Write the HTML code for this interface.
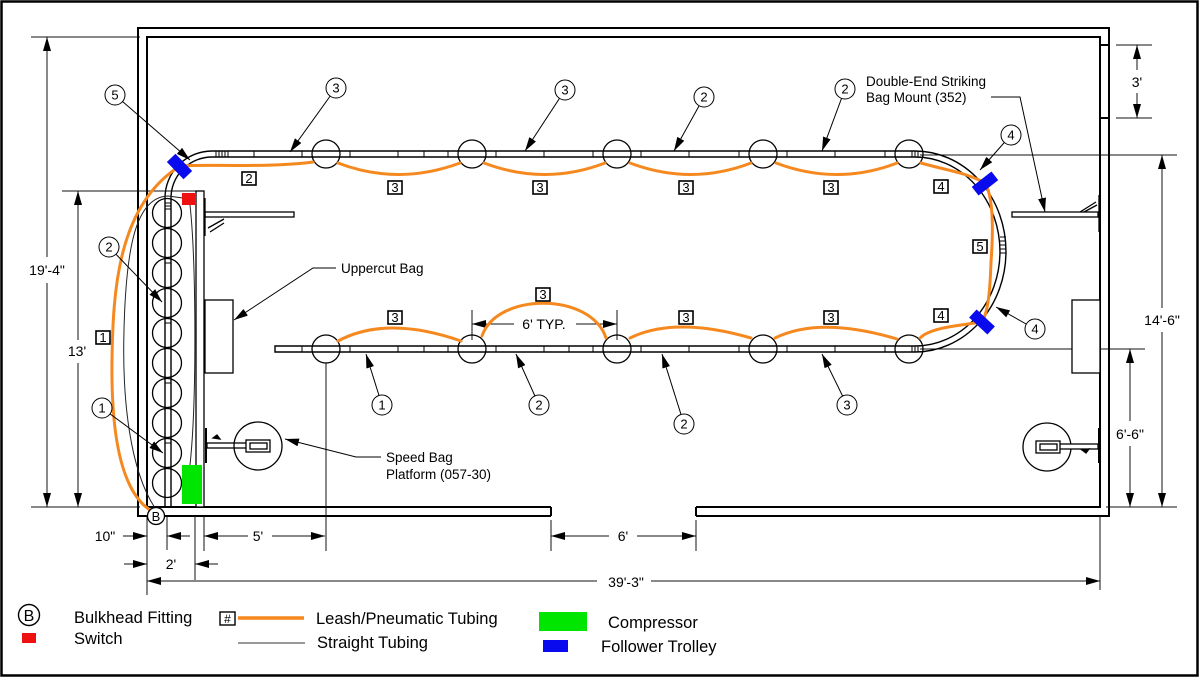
<!DOCTYPE html>
<html><head><meta charset="utf-8"><style>
html,body{margin:0;padding:0;background:#fff;}
svg{display:block;}
text{font-family:"Liberation Sans",Arial,sans-serif;fill:#000;}
</style></head><body>
<svg width="1200" height="678" viewBox="0 0 1200 678" xmlns="http://www.w3.org/2000/svg">
<defs>
<marker id="ah" markerUnits="userSpaceOnUse" markerWidth="14" markerHeight="8" refX="14" refY="4" orient="auto"><path d="M0,0 L14,4 L0,8 Z" fill="#000"/></marker>
</defs>
<rect x="1.5" y="1.5" width="1196" height="674" fill="#fff" stroke="#000" stroke-width="2.5"/>

<!-- walls -->
<g fill="none" stroke="#000" stroke-width="2">
<path d="M551 516 H138 V28 H1109 V516 H696"/>
<path d="M551 507 H147 V37 H1100 V507 H696"/>
<path d="M551 507 V516 M696 507 V516 M1100 45 H1109 M1100 118 H1109"/>
</g>

<!-- dimension / extension lines -->
<g fill="none" stroke="#111" stroke-width="1">
<path d="M31 37 H140 M31 507 H140 M62 191 H196"/>
<line x1="47" y1="257" x2="47" y2="37" marker-end="url(#ah)"/>
<line x1="47" y1="283" x2="47" y2="507" marker-end="url(#ah)"/>
<line x1="78" y1="340" x2="78" y2="191" marker-end="url(#ah)"/>
<line x1="78" y1="363" x2="78" y2="507" marker-end="url(#ah)"/>
<path d="M1116 45 H1152 M1116 118 H1152"/>
<line x1="1137" y1="70" x2="1137" y2="45" marker-end="url(#ah)"/>
<line x1="1137" y1="93" x2="1137" y2="118" marker-end="url(#ah)"/>
<path d="M920 155 H1177 M920 349 H1145 M1106 507 H1177"/>
<line x1="1162" y1="308" x2="1162" y2="155" marker-end="url(#ah)"/>
<line x1="1162" y1="332" x2="1162" y2="507" marker-end="url(#ah)"/>
<line x1="1130" y1="421" x2="1130" y2="349" marker-end="url(#ah)"/>
<line x1="1130" y1="446" x2="1130" y2="507" marker-end="url(#ah)"/>
<!-- bottom extension lines -->
<path d="M147 516 V595 M167 516 V550 M195 516 V580 M204 516 V551 M326 363 V551 M551 520 V551 M696 520 V551 M1100 516 V590"/>
<line x1="123" y1="536" x2="147" y2="536" marker-end="url(#ah)"/>
<line x1="190" y1="536" x2="167" y2="536" marker-end="url(#ah)"/>
<line x1="124" y1="564" x2="147" y2="564" marker-end="url(#ah)"/>
<line x1="218" y1="564" x2="195" y2="564" marker-end="url(#ah)"/>
<line x1="248" y1="536" x2="204" y2="536" marker-end="url(#ah)"/>
<line x1="272" y1="536" x2="325" y2="536" marker-end="url(#ah)"/>
<line x1="609" y1="536" x2="551" y2="536" marker-end="url(#ah)"/>
<line x1="637" y1="536" x2="696" y2="536" marker-end="url(#ah)"/>
<line x1="597" y1="581" x2="147" y2="581" marker-end="url(#ah)"/>
<line x1="651" y1="581" x2="1100" y2="581" marker-end="url(#ah)"/>
<!-- 6' TYP -->
<path d="M472 310 V340 M617 310 V340"/>
<line x1="514" y1="324" x2="472" y2="324" marker-end="url(#ah)"/>
<line x1="576" y1="324" x2="617" y2="324" marker-end="url(#ah)"/>
</g>

<!-- dimension text -->
<g font-size="14" text-anchor="middle">
<text x="47" y="275">19'-4"</text>
<text x="77" y="356">13'</text>
<text x="1137" y="87">3'</text>
<text x="1162" y="325">14'-6"</text>
<text x="1130" y="439">6'-6"</text>
<text x="105" y="541">10"</text>
<text x="171" y="569">2'</text>
<text x="258" y="541">5'</text>
<text x="623" y="541">6'</text>
<text x="626" y="587">39'-3"</text>
<text x="544" y="329">6' TYP.</text>
</g>

<!-- left platform board and mounts -->
<g fill="#fff" stroke="#000" stroke-width="1.3">
<rect x="196" y="191" width="8" height="316"/>
<rect x="205" y="300" width="28" height="73"/>
<rect x="1072" y="300" width="28" height="73"/>
<rect x="205" y="212" width="89" height="5"/>
<rect x="1012" y="212" width="86" height="5"/>
</g>
<g fill="none" stroke="#000" stroke-width="1.3">
<path d="M205 198 V236 M208 228 L224 219 M210 232 L224 223"/>
<path d="M1099 195 V232 M1080 212 L1096 202 M1084 212 L1097 205"/>
<!-- speed bag platforms -->
<path d="M206 428 V463" stroke-width="2"/>
<rect x="207" y="443" width="40" height="5" fill="#fff"/>
<circle cx="258" cy="446" r="24"/>
<rect x="246" y="440" width="24" height="12" fill="#fff"/>
<rect x="250" y="443" width="17" height="6"/>
<path d="M213 438 l4 -3 l3 4 z" fill="#000"/>
<path d="M1099 428 V463" stroke-width="2"/>
<circle cx="1047" cy="447" r="24"/>
<rect x="1050" y="444" width="48" height="5" fill="#fff"/>
<rect x="1036" y="441" width="24" height="12" fill="#fff"/>
<rect x="1040" y="444" width="17" height="6"/>
<path d="M1082 450 l4 3 l3 -4 z" fill="#000"/>
</g>

<!-- tracks -->
<g fill="none" stroke="#000" stroke-width="1.4">
<path d="M915 151 H212 A47 47 0 0 0 165 198 V507"/>
<path d="M915 157 H212 A41 41 0 0 0 171 198 V507"/>
<path d="M915 151 A91 100.5 0 0 1 915 352"/>
<path d="M915 157 A85 94.5 0 0 1 915 346"/>
<path d="M915 352 H275 V346 H915"/>
</g>
<g stroke="#000" stroke-width="1">
<path d="M216 151V157M219 151V157M222 151V157M225 151V157M228 151V157"/>
<path d="M254 151V157M302 151V157M350 151V157M398 151V157M424 151V157M448 151V157M496 151V157M544 151V157M593 151V157M641 151V157M689 151V157M739 151V157M787 151V157M835 151V157M885 151V157M912 151V157M915 151V157M918 151V157"/>
<path d="M302 346V352M350 346V352M398 346V352M424 346V352M448 346V352M496 346V352M544 346V352M569 346V352M593 346V352M641 346V352M689 346V352M739 346V352M787 346V352M835 346V352M885 346V352M912 346V352M915 346V352M918 346V352"/>
<path d="M165 203H171M165 206H171M165 209H171M165 263H171M165 323H171M165 383H171M165 443H171"/>
<path d="M1000 237H1006M1000 241H1006M1000 245H1006M1000 249H1006M1000 253H1006"/>
</g>

<!-- bag circles -->
<g fill="none" stroke="#000" stroke-width="1.3">
<circle cx="326" cy="154" r="14"/><circle cx="472" cy="154" r="14"/><circle cx="617" cy="154" r="14"/><circle cx="763" cy="154" r="14"/><circle cx="909" cy="154" r="14"/>
<circle cx="326" cy="349" r="14"/><circle cx="472" cy="349" r="14"/><circle cx="617" cy="349" r="14"/><circle cx="763" cy="349" r="14"/><circle cx="909" cy="349" r="14"/>
<circle cx="167" cy="213" r="14.5"/><circle cx="167" cy="243" r="14.5"/><circle cx="167" cy="273" r="14.5"/><circle cx="167" cy="303" r="14.5"/><circle cx="167" cy="333" r="14.5"/><circle cx="167" cy="363" r="14.5"/><circle cx="167" cy="393" r="14.5"/><circle cx="167" cy="423" r="14.5"/><circle cx="167" cy="453" r="14.5"/><circle cx="167" cy="483" r="14.5"/>
</g>

<!-- straight tubing (thin) -->
<g fill="none" stroke="#222" stroke-width="1">
<path d="M155 508 C130 470, 122 400, 124 330 C126 250, 135 197, 168 196 L183 198"/>
<path d="M190 205 C196 260, 197 400, 190 465"/>
</g>

<!-- leash / pneumatic tubing (orange) -->
<g fill="none" stroke="#f5891f" stroke-width="3" stroke-linecap="round">
<path d="M150 510 C120 490, 111 430, 112 360 C113 290, 118 205, 180 166"/>
<path d="M180 166 C200 164, 270 168, 313 162"/>
<path d="M338 163 Q398 186 460 163"/>
<path d="M484 163 Q545 186 605 163"/>
<path d="M630 163 Q691 186 751 163"/>
<path d="M776 163 Q837 186 897 163"/>
<path d="M921 163 C945 170, 965 172, 985 183 C994 198, 993 235, 991 262 C990 292, 988 312, 982 322"/>
<path d="M338 341 Q386.5 315 461 341"/>
<path d="M482 336 C497 292, 591 292, 606 338"/>
<path d="M630 338 Q675 316 751 338"/>
<path d="M775 338 Q820 316 897 339"/>
<path d="M920 338 C930 328, 955 326, 982 322"/>
</g>

<!-- switch, compressor -->
<rect x="182" y="193" width="13" height="12" fill="#ee1111"/>
<rect x="182" y="465" width="20" height="39" fill="#00e600"/>

<!-- follower trolleys -->
<g fill="#0a0aef">
<rect x="-12" y="-6" width="24" height="12" transform="translate(179.5,166.5) rotate(46)"/>
<rect x="-12.5" y="-5.5" width="25" height="11" transform="translate(985,183.5) rotate(-38)"/>
<rect x="-12.5" y="-5.5" width="25" height="11" transform="translate(982,322) rotate(43)"/>
</g>

<!-- bulkhead fitting -->
<circle cx="156" cy="516" r="8.5" fill="#fff" stroke="#000" stroke-width="1.3"/>
<text x="156" y="521" font-size="13" text-anchor="middle">B</text>

<!-- tubing label boxes -->
<g fill="#fff" stroke="#000" stroke-width="1.6">
<rect x="242" y="172" width="14" height="13"/>
<rect x="388" y="181" width="14" height="13"/>
<rect x="533" y="181" width="14" height="13"/>
<rect x="679" y="181" width="14" height="13"/>
<rect x="824" y="181" width="14" height="13"/>
<rect x="934" y="180" width="14" height="13"/>
<rect x="973" y="240" width="14" height="13"/>
<rect x="934" y="309" width="14" height="13"/>
<rect x="388" y="311" width="14" height="13"/>
<rect x="536" y="288" width="14" height="13"/>
<rect x="679" y="311" width="14" height="13"/>
<rect x="824" y="311" width="14" height="13"/>
<rect x="96" y="331" width="14" height="13"/>
</g>
<g font-size="13" text-anchor="middle">
<text x="249" y="183">2</text>
<text x="395" y="192">3</text>
<text x="540" y="192">3</text>
<text x="686" y="192">3</text>
<text x="831" y="192">3</text>
<text x="941" y="191">4</text>
<text x="980" y="251">5</text>
<text x="941" y="320">4</text>
<text x="395" y="322">3</text>
<text x="543" y="299">3</text>
<text x="686" y="322">3</text>
<text x="831" y="322">3</text>
<text x="103" y="342">1</text>
</g>

<!-- callout leaders -->
<g stroke="#000" stroke-width="1" fill="none">
<line x1="115" y1="95" x2="190" y2="160" marker-end="url(#ah)"/>
<line x1="336" y1="88" x2="290" y2="152" marker-end="url(#ah)"/>
<line x1="565" y1="90" x2="525" y2="151" marker-end="url(#ah)"/>
<line x1="704" y1="97" x2="674" y2="151" marker-end="url(#ah)"/>
<line x1="845" y1="89" x2="822" y2="151" marker-end="url(#ah)"/>
<line x1="1011" y1="135" x2="980" y2="170" marker-end="url(#ah)"/>
<line x1="1035" y1="329" x2="996" y2="307" marker-end="url(#ah)"/>
<line x1="382" y1="405" x2="366" y2="354" marker-end="url(#ah)"/>
<line x1="539" y1="405" x2="516" y2="354" marker-end="url(#ah)"/>
<line x1="684" y1="424" x2="662" y2="354" marker-end="url(#ah)"/>
<line x1="847" y1="405" x2="822" y2="354" marker-end="url(#ah)"/>
<line x1="109" y1="247" x2="162" y2="302" marker-end="url(#ah)"/>
<line x1="102" y1="408" x2="163" y2="453" marker-end="url(#ah)"/>
<polyline points="336,268 313,268 234,320" marker-end="url(#ah)"/>
<polyline points="381,457 356,457 285,439" marker-end="url(#ah)"/>
<polyline points="991,97 1020,97 1045,212" marker-end="url(#ah)"/>
</g>
<g fill="#fff" stroke="#000" stroke-width="1">
<circle cx="115" cy="95" r="10"/>
<circle cx="336" cy="88" r="10"/>
<circle cx="565" cy="90" r="10"/>
<circle cx="704" cy="97" r="10"/>
<circle cx="845" cy="89" r="10"/>
<circle cx="1011" cy="135" r="10"/>
<circle cx="1035" cy="329" r="10"/>
<circle cx="382" cy="405" r="10"/>
<circle cx="539" cy="405" r="10"/>
<circle cx="684" cy="424" r="10"/>
<circle cx="847" cy="405" r="10"/>
<circle cx="109" cy="247" r="10"/>
<circle cx="102" cy="408" r="10"/>
</g>
<g font-size="13" text-anchor="middle">
<text x="115" y="99.5">5</text>
<text x="336" y="92.5">3</text>
<text x="565" y="94.5">3</text>
<text x="704" y="101.5">2</text>
<text x="845" y="93.5">2</text>
<text x="1011" y="139.5">4</text>
<text x="1035" y="333.5">4</text>
<text x="382" y="409.5">1</text>
<text x="539" y="409.5">2</text>
<text x="684" y="428.5">2</text>
<text x="847" y="409.5">3</text>
<text x="109" y="251.5">2</text>
<text x="102" y="412.5">1</text>
</g>

<!-- annotations -->
<g font-size="13.5">
<text x="341" y="273">Uppercut Bag</text>
<text x="386" y="462">Speed Bag</text>
<text x="386" y="479">Platform (057-30)</text>
<text x="866" y="86">Double-End Striking</text>
<text x="866" y="102">Bag Mount (352)</text>
</g>

<!-- legend -->
<circle cx="29" cy="615" r="10.5" fill="#fff" stroke="#000" stroke-width="1.4"/>
<text x="29" y="621" font-size="16" text-anchor="middle">B</text>
<rect x="22" y="633" width="14" height="10" fill="#ee1111"/>
<rect x="220" y="612" width="15" height="13" fill="#fff" stroke="#000" stroke-width="1.4"/>
<text x="227.5" y="623" font-size="12" text-anchor="middle">#</text>
<line x1="238" y1="618" x2="304" y2="618" stroke="#f5891f" stroke-width="3.5"/>
<line x1="238" y1="643" x2="305" y2="643" stroke="#333" stroke-width="1"/>
<rect x="539" y="612" width="48" height="19" fill="#00e600"/>
<rect x="543" y="640" width="25" height="12" fill="#0a0aef"/>
<g font-size="16.5">
<text x="74" y="623">Bulkhead Fitting</text>
<text x="74" y="644">Switch</text>
<text x="316" y="624">Leash/Pneumatic Tubing</text>
<text x="317" y="648">Straight Tubing</text>
<text x="608" y="628">Compressor</text>
<text x="601" y="652">Follower Trolley</text>
</g>
</svg>
</body></html>
